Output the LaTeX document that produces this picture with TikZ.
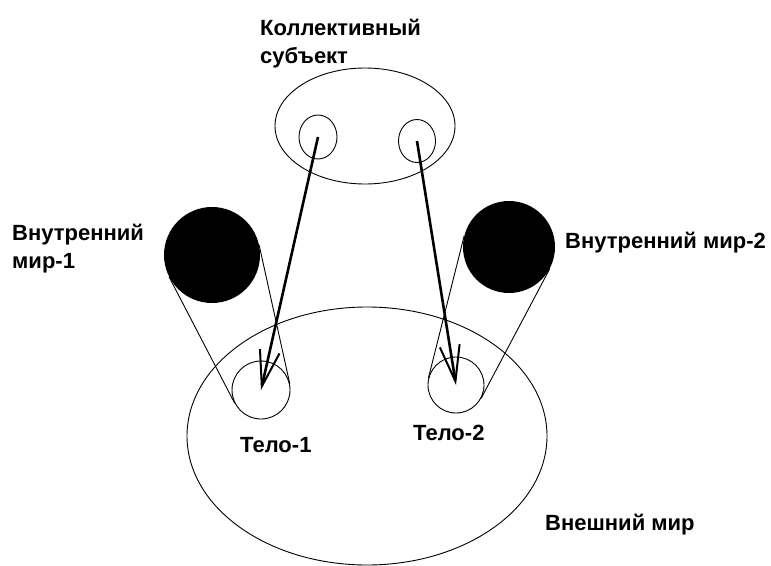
\documentclass[tikz,border=0pt]{standalone}
\usepackage{fontspec}
\setmainfont{Liberation Sans}
\usetikzlibrary{shapes.geometric, arrows.meta}

\begin{document}
\begin{tikzpicture}[
  x=10pt, y=-10pt,
  ring/.style={draw, line width=0.9pt, inner sep=0},
  oval/.style={ring, ellipse},
  world/.style={circle, fill=black, inner sep=0},
  body/.style={ring, circle},
  rim/.style={line width=0.9pt},
  link/.style={line width=2.6pt, -{Straight Barb[length=36pt, width=20pt, line width=2pt]}},
  lbl/.style={font=\bfseries\fontsize{22}{28}\selectfont, inner sep=0, align=left, anchor=base west}
]
\useasboundingbox (0,0) rectangle (77.1,56.5);

\node[oval, minimum width=360pt, minimum height=258pt] (ext)  at (36.7,43.6) {};
\node[oval, minimum width=180pt, minimum height=116pt] (coll) at (36.5,12.6) {};
\node[oval, minimum width=38pt,  minimum height=44pt]  (s1)   at (31.8,13.7) {};
\node[oval, minimum width=37pt,  minimum height=43pt]  (s2)   at (41.7,14.1) {};

\node[world, minimum size=96pt] (w1) at (21.2,25.5) {};
\node[world, minimum size=92pt] (w2) at (50.9,24.7) {};
\node[body,  minimum size=58pt] (t1) at (26.1,39.0) {};
\node[body,  minimum size=56pt] (t2) at (45.6,38.5) {};

\draw[rim] (w1.207.6) -- (t1.207.6);
\draw[rim] (w1.12.4)  -- (t1.12.4);
\draw[rim] (w2.166)   -- (t2.166);
\draw[rim] (w2.332)   -- (t2.332);

\draw[link] (s1.center) -- (t1.center);
\draw[link] (s2.center) -- (t2.center);

\node[lbl] (coll-txt) at (26.0,6.3)  {Коллективный\\субъект};
\node[lbl] (w1-txt)   at (1.2,26.8)  {Внутренний\\мир-1};
\node[lbl] (w2-txt)   at (56.5,24.8) {Внутренний мир-2};
\node[lbl] (t1-txt)   at (24.0,45.2) {Тело-1};
\node[lbl] (t2-txt)   at (41.3,44.0) {Тело-2};
\node[lbl] (ext-txt)  at (54.5,53.0) {Внешний мир};
\end{tikzpicture}
\end{document}
